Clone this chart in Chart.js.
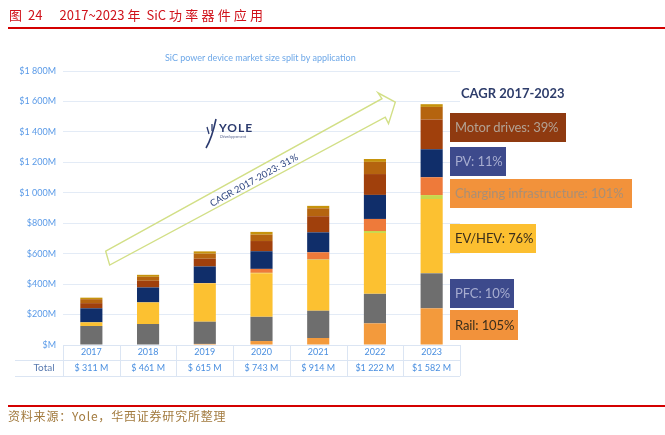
<!DOCTYPE html>
<html>
<head>
<meta charset="utf-8">
<script src="https://cdn.jsdelivr.net/npm/chart.js@4.4.0/dist/chart.umd.min.js"></script>
<style>
  body { margin: 0; background: #fff; width: 665px; height: 435px; overflow: hidden; position: relative; font-family: Lato, sans-serif; }
  #Canvas { position: absolute; left: 0; top: 0; }
  .abs { position: absolute; white-space: nowrap; }
  #titulo { left: 9px; top: 5px; color: #d0121b; font-size: 13px; font-family: "Noto Sans CJK SC", sans-serif; }
  #titulo .cn { letter-spacing: 3.2px; }
  .linha { position: absolute; left: 8px; right: 0; height: 2px; background: #d40000; }
  #fonte { left: 8px; top: 407px; color: #a27a3e; font-size: 12px; letter-spacing: 0.8px; font-family: "Noto Sans CJK SC", sans-serif; }
  #subtitulo { left: 165px; top: 52px; color: #6ea8e8; font-size: 9px; }
  #cagr { left: 461px; top: 85px; color: #2e3d6b; font-size: 13px; font-weight: bold; }
  .caixa { position: absolute; left: 450px; height: 29px; line-height: 29px; padding-left: 5px; box-sizing: border-box; font-size: 13px; letter-spacing: -0.1px; white-space: nowrap; }
</style>
</head>
<body>
<canvas id="Canvas" width="665" height="435"></canvas>

<div id="titulo" class="abs"><span class="cn">图</span> 24<span style="display:inline-block;width:17px"></span>2017~2023 <span class="cn">年</span> SiC <span class="cn">功率器件应用</span></div>
<div class="linha" style="top:27px"></div>
<div id="subtitulo" class="abs">SiC power device market size split by application</div>
<div id="cagr" class="abs">CAGR 2017-2023</div>

<div class="caixa" style="top:113px; width:116px; background:#8f3a10; color:#b3a294">Motor drives: 39%</div>
<div class="caixa" style="top:147px; width:56px; background:#3d4a8c; color:#a7add0">PV: 11%</div>
<div class="caixa" style="top:179px; width:182px; background:#f2923b; color:#a98f76">Charging infrastructure: 101%</div>
<div class="caixa" style="top:224px; width:86px; background:#fcbf30; color:#3a2e1c">EV/HEV: 76%</div>
<div class="caixa" style="top:279px; width:64px; background:#3d4a8c; color:#a7add0">PFC: 10%</div>
<div class="caixa" style="top:310px; width:68px; height:30px; line-height:30px; background:#f2923b; color:#3a2e1c">Rail: 105%</div>

<div class="linha" style="top:405px"></div>
<div id="fonte" class="abs">资料来源：Yole，华西证券研究所整理</div>

<script>
// Dados (milhões de dólares)
let anos = ["2017", "2018", "2019", "2020", "2021", "2022", "2023"];
let totais = ["$ 311 M", "$ 461 M", "$ 615 M", "$ 743 M", "$ 914 M", "$1 222 M", "$1 582 M"];
let rotulosY = ["$M", "$200M", "$400M", "$600M", "$800M", "$1 000M", "$1 200M", "$1 400M", "$1 600M", "$1 800M"];

let rail = [0, 0, 7, 26, 46, 142, 241];
let pfc = [125, 138, 146, 159, 179, 194, 230];
let evHev = [24, 142, 252, 287, 333, 400, 488];
let wind = [0, 0, 0, 2, 3, 13, 26];
let charging = [0, 0, 2, 26, 48, 79, 117];
let pv = [92, 98, 109, 116, 131, 158, 184];
let motor = [34, 44, 51, 67, 106, 137, 195];
let ups = [26, 26, 33, 42, 52, 80, 83];
let outros = [10, 13, 15, 18, 16, 19, 18];

// seta CAGR em coordenadas (indice da categoria, valor)
let seta = [[0.253, 616], [5.124, 1618], [5.053, 1657], [5.359, 1595], [5.240, 1454], [5.182, 1497], [0.323, 525]];
let textoSeta = [2.868, 1082];

function ponto(chart, i, v) {
  let x = chart.scales.x;
  let x0 = x.getPixelForValue(0);
  let passo = x.getPixelForValue(1) - x0;
  return [x0 + passo * i, chart.scales.y.getPixelForValue(v)];
}

let extras = {
  id: "extras",
  beforeDatasetsDraw(chart) {
    let ctx = chart.ctx;
    ctx.save();
    // seta
    ctx.beginPath();
    seta.forEach((p, k) => {
      let [px, py] = ponto(chart, p[0], p[1]);
      if (k === 0) ctx.moveTo(px, py); else ctx.lineTo(px, py);
    });
    ctx.closePath();
    ctx.strokeStyle = "#d2df86";
    ctx.lineWidth = 1.4;
    ctx.stroke();

    let a = ponto(chart, seta[0][0], seta[0][1]);
    let b = ponto(chart, seta[1][0], seta[1][1]);
    let ang = Math.atan2(b[1] - a[1], b[0] - a[0]);
    let c = ponto(chart, textoSeta[0], textoSeta[1]);
    ctx.translate(c[0], c[1]);
    ctx.rotate(ang);
    ctx.fillStyle = "#2f4680";
    ctx.font = "9.5px Lato";
    ctx.textAlign = "center";
    ctx.textBaseline = "middle";
    ctx.fillText("CAGR 2017-2023: 31%", 0, 0);
    ctx.restore();

    // logo Yole
    ctx.save();
    ctx.fillStyle = "#2b3a6e";
    ctx.font = "bold 12px Lato";
    ctx.textBaseline = "middle";
    ctx.letterSpacing = "1px";
    ctx.fillText("YOLE", 219, 128);
    ctx.letterSpacing = "0px";
    ctx.font = "italic 4px Lato";
    ctx.fillStyle = "#5a6690";
    ctx.fillText("Développement", 220, 137);
    ctx.strokeStyle = "#2b3a6e";
    ctx.lineWidth = 1.6;
    ctx.beginPath();
    ctx.moveTo(216, 119);
    ctx.quadraticCurveTo(212, 138, 206, 148);
    ctx.stroke();
    ctx.lineWidth = 1.3;
    ctx.beginPath();
    ctx.moveTo(207, 127); ctx.lineTo(209, 134);
    ctx.moveTo(212, 124); ctx.lineTo(212, 131);
    ctx.stroke();
    ctx.restore();
  },
  afterDraw(chart) {
    let ctx = chart.ctx;
    let x = chart.scales.x;
    let base = chart.chartArea.bottom;
    let fim = chart.chartArea.right;
    let x0 = x.getPixelForValue(0);
    let passo = x.getPixelForValue(1) - x0;
    ctx.save();
    ctx.strokeStyle = "#dbe5f3";
    ctx.lineWidth = 1;
    ctx.beginPath();
    for (let i = 0; i <= anos.length; i++) {
      let px = Math.round(x0 - passo / 2 + passo * i) + 0.5;
      ctx.moveTo(px, base);
      ctx.lineTo(px, base + 31);
    }
    ctx.moveTo(15, base + 15.5);
    ctx.lineTo(fim, base + 15.5);
    ctx.moveTo(15, base + 31.5);
    ctx.lineTo(fim, base + 31.5);
    ctx.stroke();
    ctx.fillStyle = "#5a7bb0";
    ctx.font = "10px Lato";
    ctx.textAlign = "center";
    ctx.textBaseline = "middle";
    ctx.fillText("Total", 44, base + 23);
    ctx.restore();
  }
};

function serie(label, dados, cor) {
  return { label: label, data: dados, backgroundColor: cor, borderWidth: 0 };
}

let ctx = document.getElementById("Canvas").getContext("2d");

new Chart(ctx, {
  type: "bar",
  data: {
    labels: anos.map((a, i) => [a, totais[i]]),
    datasets: [
      serie("Rail", rail, "#f39a3c"),
      serie("PFC", pfc, "#6e6e6e"),
      serie("EV/HEV", evHev, "#fcc131"),
      serie("Wind", wind, "#c8d84c"),
      serie("Charging infrastructure", charging, "#ee7a3a"),
      serie("PV", pv, "#102e6a"),
      serie("Motor drives", motor, "#a0400c"),
      serie("UPS", ups, "#b5640f"),
      serie("Others", outros, "#c6930c")
    ]
  },
  options: {
    responsive: false,
    animation: false,
    categoryPercentage: 1,
    barPercentage: 0.39,
    layout: { padding: { left: 0, right: 205, top: 71, bottom: 59 } },
    plugins: {
      legend: { display: false },
      tooltip: { enabled: false }
    },
    scales: {
      x: {
        stacked: true,
        grid: { display: false, drawTicks: false },
        border: { display: true, color: "#dbe5f3" },
        afterFit: function (s) { s.height = 31; },
        ticks: {
          padding: -1,
          maxRotation: 0,
          color: "#4a8fe0",
          font: { family: "Lato", size: 9, lineHeight: "16px" }
        }
      },
      y: {
        stacked: true,
        min: 0,
        max: 1800,
        afterFit: function (s) { s.width = 63; },
        grid: { color: "#e3ebf6", drawTicks: false },
        border: { display: false },
        ticks: {
          stepSize: 200,
          padding: 7,
          color: "#5b9be8",
          font: { family: "Lato", size: 9 },
          callback: function (v) { return rotulosY[v / 200]; }
        }
      }
    }
  },
  plugins: [extras]
});
</script>
</body>
</html>
